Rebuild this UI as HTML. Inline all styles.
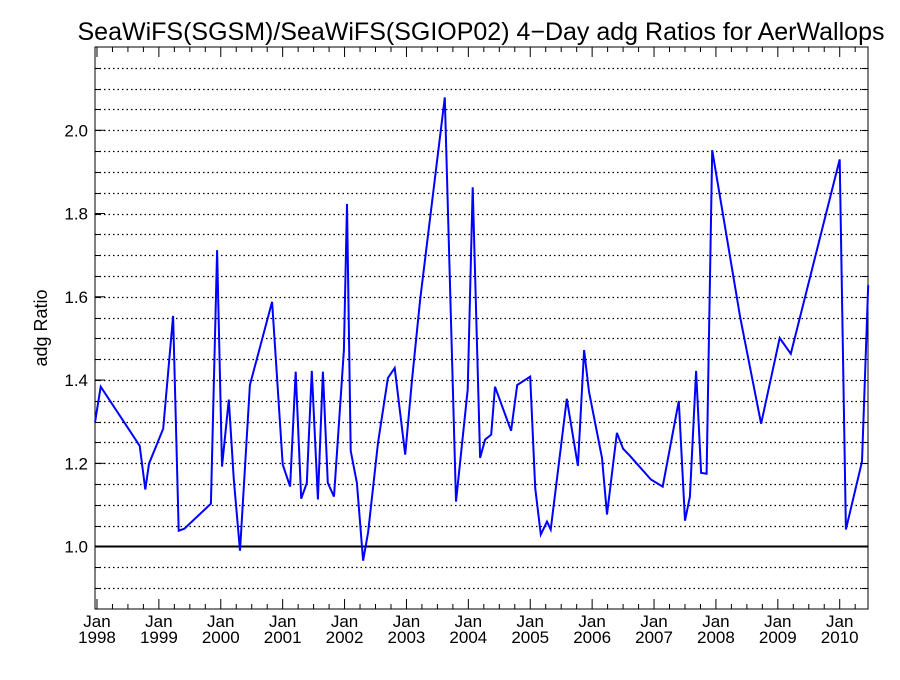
<!DOCTYPE html>
<html><head><meta charset="utf-8"><style>
body{margin:0;background:#fff;}
svg text{font-family:"Liberation Sans",sans-serif;fill:#000;}
</style></head><body>
<svg id="chart" width="900" height="675">
<text x="481" y="40" font-size="25" text-anchor="middle">SeaWiFS(SGSM)/SeaWiFS(SGIOP02) 4−Day adg Ratios for AerWallops</text>
<text transform="translate(47,328) rotate(-90)" font-size="18" text-anchor="middle">adg Ratio</text>
<g id="grid"></g><g id="axes"></g><g id="series"></g>
</svg>
<script>
const years=[1997.97,1998.06,1998.69,1998.78,1998.84,1999.07,1999.23,1999.32,1999.41,1999.84,1999.94,2000.02,2000.13,2000.21,2000.31,2000.47,2000.83,2001.00,2001.12,2001.21,2001.30,2001.39,2001.47,2001.57,2001.65,2001.73,2001.83,2001.99,2002.04,2002.10,2002.20,2002.30,2002.38,2002.54,2002.70,2002.81,2002.98,2003.09,2003.22,2003.62,2003.80,2003.99,2004.07,2004.19,2004.27,2004.37,2004.43,2004.69,2004.79,2005.00,2005.08,2005.17,2005.27,2005.33,2005.43,2005.59,2005.77,2005.87,2005.95,2006.16,2006.24,2006.40,2006.50,2006.61,2006.95,2007.14,2007.40,2007.50,2007.58,2007.68,2007.76,2007.85,2007.94,2008.39,2008.73,2009.03,2009.21,2010.00,2010.10,2010.36,2010.46];
const ratios=[1.300,1.384,1.242,1.137,1.199,1.283,1.554,1.038,1.043,1.103,1.712,1.192,1.353,1.161,0.990,1.388,1.588,1.197,1.144,1.420,1.115,1.153,1.422,1.113,1.420,1.153,1.120,1.472,1.823,1.230,1.153,0.966,1.034,1.249,1.405,1.429,1.221,1.400,1.592,2.079,1.108,1.377,1.863,1.213,1.257,1.269,1.384,1.278,1.388,1.408,1.141,1.029,1.060,1.041,1.161,1.355,1.194,1.472,1.372,1.213,1.077,1.273,1.235,1.218,1.161,1.144,1.350,1.062,1.120,1.422,1.177,1.175,1.952,1.552,1.295,1.501,1.463,1.930,1.041,1.204,1.628];
const yTickLabels=["1.0","1.2","1.4","1.6","1.8","2.0"];
const yearLabels=["1998","1999","2000","2001","2002","2003","2004","2005","2006","2007","2008","2009","2010"];
const NS="http://www.w3.org/2000/svg";
const L=95,R=868,T=47,B=609;
const X0=1997.968,X1=2010.457,Y0=0.85,Y1=2.2;
function sx(v){return L+(v-X0)/(X1-X0)*(R-L);}
function sy(v){return B-(v-Y0)/(Y1-Y0)*(B-T);}
function mk(tag,attrs,parent){const e=document.createElementNS(NS,tag);for(const k in attrs)e.setAttribute(k,attrs[k]);parent.appendChild(e);return e;}
const grid=document.getElementById('grid'),axes=document.getElementById('axes'),series=document.getElementById('series');
for(let i=1;i<27;i++){const v=Y0+i*0.05;if(Math.abs(v-1)<1e-6)continue;const y=Math.round(sy(v))+0.5;
const g=mk('line',{x1:L,x2:R,y1:y,y2:y,stroke:'#000','stroke-width':1.2,'stroke-dasharray':'1.5 3'},grid);


mk('line',{x1:L,x2:L+6,y1:y,y2:y,stroke:'#000','stroke-width':1},axes);
mk('line',{x1:R-6,x2:R,y1:y,y2:y,stroke:'#000','stroke-width':1},axes);}
const ref=mk('line',{x1:L,x2:R,y1:sy(1),y2:sy(1),stroke:'#000','stroke-width':2},grid);


const frame=mk('rect',{x:L,y:T,width:R-L,height:B-T,fill:'none',stroke:'#000','stroke-width':1},axes);


yTickLabels.forEach(s=>{const y=sy(parseFloat(s));
mk('line',{x1:L,x2:L+10,y1:y,y2:y,stroke:'#000'},axes);
const t=mk('text',{x:L-7,y:y+6,'font-size':17,'text-anchor':'end'},axes);t.textContent=s;

});
for(let q=0;q<52;q++){const v=1998+q*0.25;const x=sx(v);if(x>R)break;const maj=q%4===0;
mk('line',{x1:x,x2:x,y1:B,y2:B-(maj?10:5),stroke:'#000'},axes);
mk('line',{x1:x,x2:x,y1:T,y2:T+(maj?10:5),stroke:'#000'},axes);}
yearLabels.forEach(s=>{const x=sx(parseFloat(s));
const a=mk('text',{x:x,y:627,'font-size':17,'text-anchor':'middle'},axes);a.textContent='Jan';


const b=mk('text',{x:x,y:643,'font-size':17,'text-anchor':'middle'},axes);b.textContent=s;

});
const pts=years.map((yr,i)=>sx(yr).toFixed(1)+','+sy(ratios[i]).toFixed(1)).join(' ');
const pl=mk('polyline',{points:pts,fill:'none',stroke:'#0000ff','stroke-width':2,'stroke-linejoin':'miter'},series);


</script>
</body></html>
